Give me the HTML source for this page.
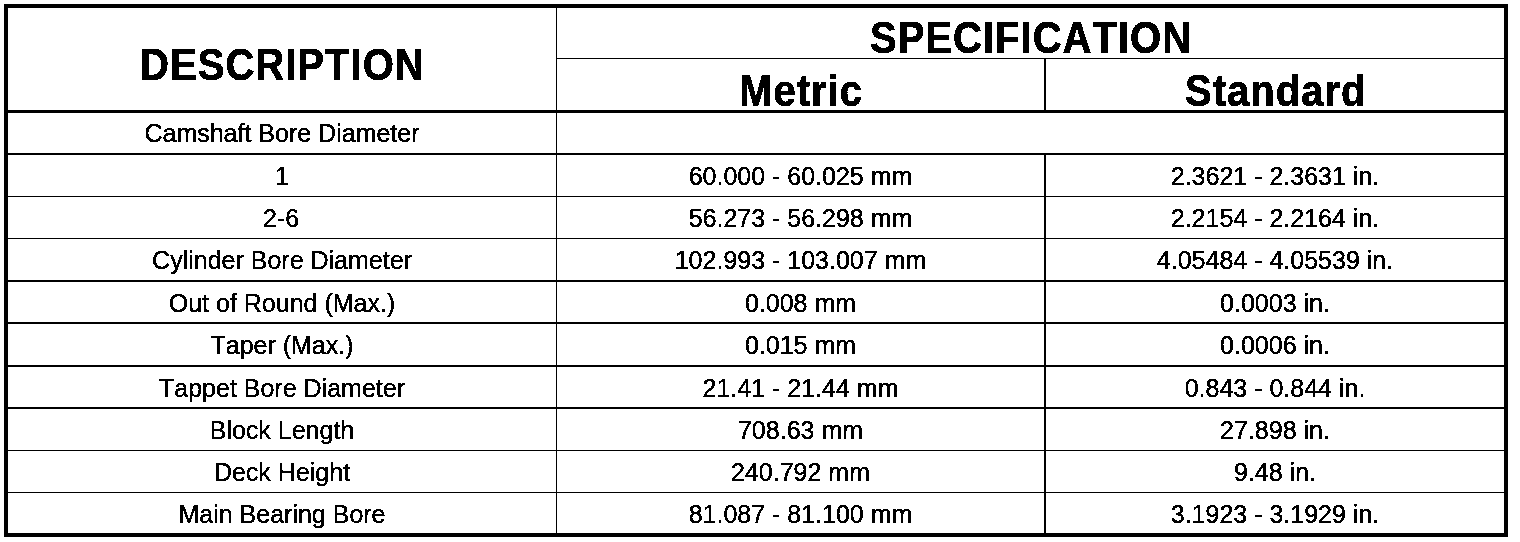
<!DOCTYPE html>
<html lang="en">
<head>
<meta charset="utf-8">
<title>Cylinder Block Specifications</title>
<style>
  html, body {
    margin: 0;
    padding: 0;
    background: #fff;
  }
  body {
    width: 1520px;
    height: 542px;
    overflow: hidden;
    position: relative;
    font-family: "Liberation Sans", sans-serif;
    font-kerning: none;
    font-variant-ligatures: none;
    color: #000;
  }
  table.spec {
    position: absolute;
    left: 4px;
    top: 4px;
    width: 1504px;
    height: 533px;
    box-sizing: border-box;
    border: 4px solid #000;
    border-collapse: separate;
    border-spacing: 0;
    table-layout: fixed;
  }
  table.spec td, table.spec th {
    box-sizing: border-box;
    padding: 0;
    margin: 0;
    text-align: center;
    vertical-align: top;
    font-weight: normal;
    overflow: visible;
    white-space: nowrap;
    border: 0 solid #000;
  }
  /* column dividers */
  .c1 { border-right-width: 1px !important; }
  .c2 { border-right-width: 2px !important; }
  /* horizontal rule thicknesses */
  .b1 > * { border-bottom-width: 1px !important; }
  .b2 > * { border-bottom-width: 2px !important; }
  .b3 > * { border-bottom-width: 3px !important; }
  th.hb1 { border-bottom-width: 1px !important; }
  th.hb3 { border-bottom-width: 3px !important; }

  /* text */
  .t, .h { filter: url(#bw); }
  .t {
    display: inline-block;
    position: relative;
    font-size: 25px;
    line-height: 30px;
    top: 6px;
    -webkit-text-stroke: 0.2px #000;
    transform-origin: 50% 50%;
  }
  .h {
    display: inline-block;
    position: relative;
    font-weight: bold;
    font-size: 44px;
    line-height: 50px;
    transform-origin: 50% 50%;
    transform: scaleX(0.91);
    letter-spacing: 1.1px;
    margin-right: -1.1px;
    -webkit-text-stroke: 0.4px #000;
  }
</style>
</head>
<body>
<svg width="0" height="0" style="position:absolute;left:0;top:0" aria-hidden="true">
  <defs>
    <filter id="bw" x="-5%" y="-20%" width="110%" height="140%" color-interpolation-filters="sRGB">
      <feComponentTransfer>
        <feFuncA type="discrete" tableValues="0 0 0 1 1 1 1 1"/>
      </feComponentTransfer>
    </filter>
  </defs>
</svg>
<table class="spec">
  <colgroup>
    <col style="width:549px">
    <col style="width:489px">
    <col style="width:458px">
  </colgroup>
  <thead>
    <tr style="height:51px">
      <th class="c1 hb3" rowspan="2"><span class="h" id="h-desc" style="top:32px">DESCRIPTION</span></th>
      <th class="hb1" colspan="2"><span class="h" id="h-spec" style="top:5px">SPECIFICATION</span></th>
    </tr>
    <tr style="height:54px">
      <th class="c2 hb3"><span class="h" id="h-met" style="top:7px">Metric</span></th>
      <th class="hb3"><span class="h" id="h-std" style="top:7px">Standard</span></th>
    </tr>
  </thead>
  <tbody>
    <tr class="b2" style="height:42px">
      <td class="c1"><span class="t" style="top:5px">Camshaft Bore Diameter</span></td>
      <td colspan="2"></td>
    </tr>
    <tr class="b1" style="height:42px">
      <td class="c1"><span class="t">1</span></td>
      <td class="c2"><span class="t">60.000 - 60.025 mm</span></td>
      <td><span class="t">2.3621 - 2.3631 in.</span></td>
    </tr>
    <tr class="b1" style="height:42px">
      <td class="c1"><span class="t" style="left:-1px">2-6</span></td>
      <td class="c2"><span class="t">56.273 - 56.298 mm</span></td>
      <td><span class="t">2.2154 - 2.2164 in.</span></td>
    </tr>
    <tr class="b2" style="height:43px">
      <td class="c1"><span class="t">Cylinder Bore Diameter</span></td>
      <td class="c2"><span class="t">102.993 - 103.007 mm</span></td>
      <td><span class="t">4.05484 - 4.05539 in.</span></td>
    </tr>
    <tr class="b2" style="height:42px">
      <td class="c1"><span class="t">Out of Round (Max.)</span></td>
      <td class="c2"><span class="t">0.008 mm</span></td>
      <td><span class="t">0.0003 in.</span></td>
    </tr>
    <tr class="b2" style="height:43px">
      <td class="c1"><span class="t">Taper (Max.)</span></td>
      <td class="c2"><span class="t">0.015 mm</span></td>
      <td><span class="t">0.0006 in.</span></td>
    </tr>
    <tr class="b2" style="height:42px">
      <td class="c1"><span class="t">Tappet Bore Diameter</span></td>
      <td class="c2"><span class="t">21.41 - 21.44 mm</span></td>
      <td><span class="t">0.843 - 0.844 in.</span></td>
    </tr>
    <tr class="b1" style="height:42px">
      <td class="c1"><span class="t">Block Length</span></td>
      <td class="c2"><span class="t">708.63 mm</span></td>
      <td><span class="t">27.898 in.</span></td>
    </tr>
    <tr class="b1" style="height:42px">
      <td class="c1"><span class="t">Deck Height</span></td>
      <td class="c2"><span class="t">240.792 mm</span></td>
      <td><span class="t">9.48 in.</span></td>
    </tr>
    <tr style="height:40px">
      <td class="c1"><span class="t">Main Bearing Bore</span></td>
      <td class="c2"><span class="t">81.087 - 81.100 mm</span></td>
      <td><span class="t">3.1923 - 3.1929 in.</span></td>
    </tr>
  </tbody>
</table>
</body>
</html>
